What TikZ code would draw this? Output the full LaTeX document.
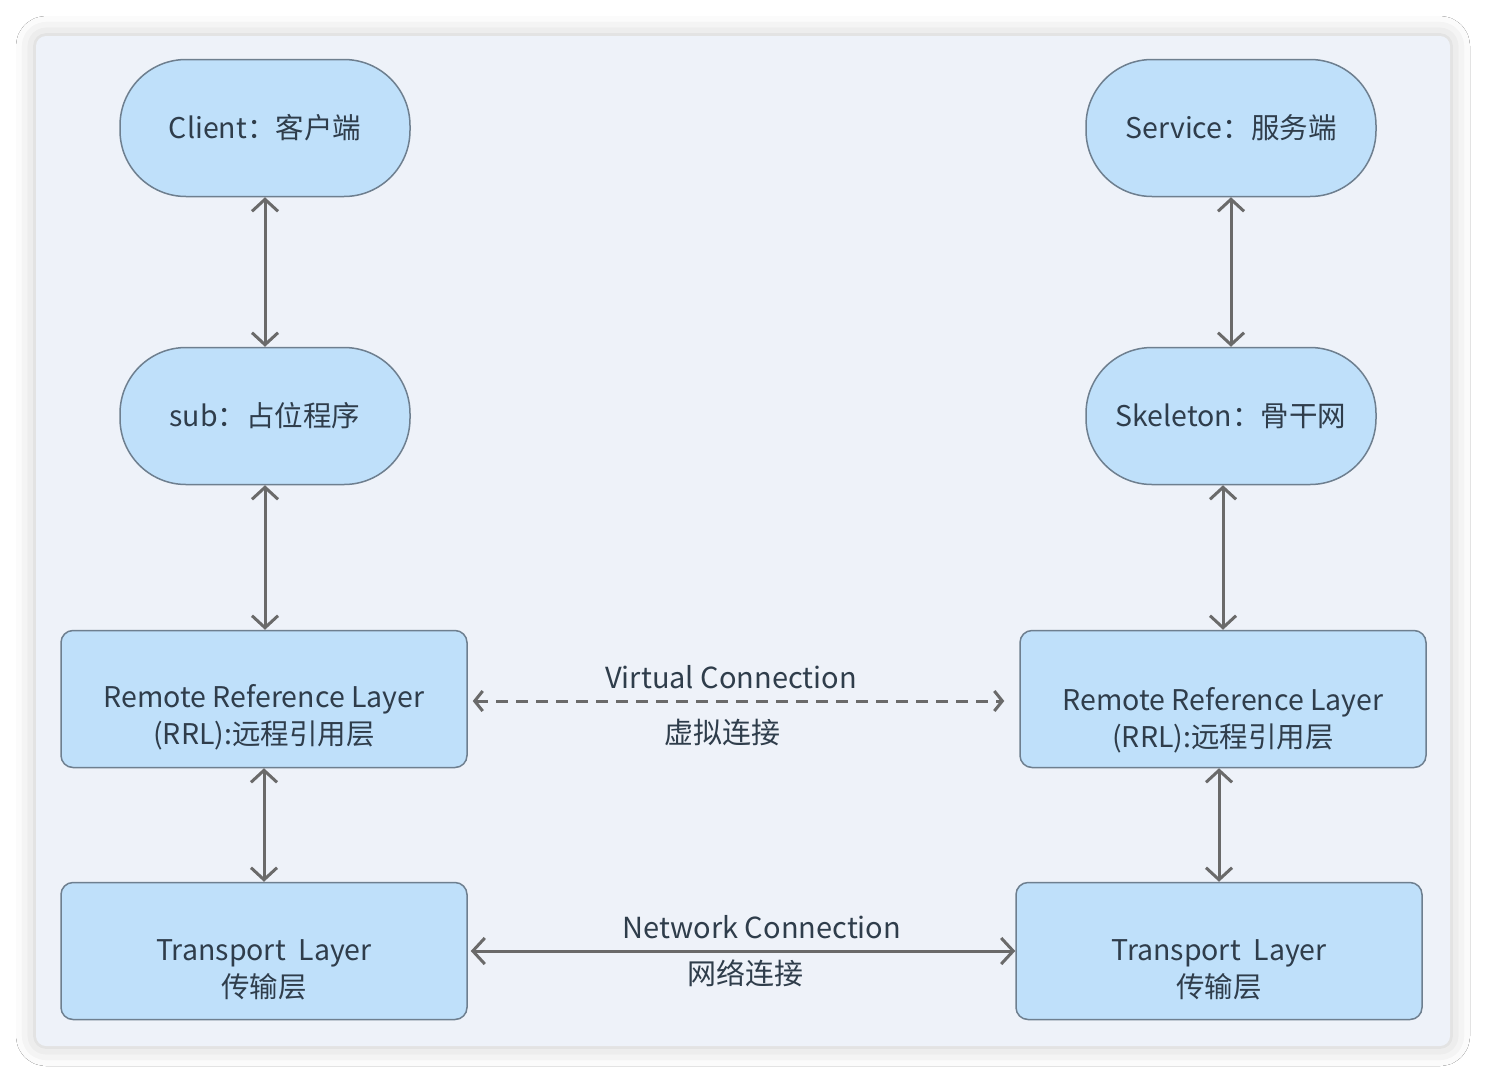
\documentclass[tikz,border=0pt]{standalone}
\usepackage{fontspec}
\setmainfont{Noto Sans CJK SC}
\usetikzlibrary{arrows.meta,shadows.blur}
\definecolor{panelbg}{HTML}{EEF2F9}
\definecolor{nodefill}{HTML}{BFE0FA}
\definecolor{nodeline}{HTML}{6E7F8F}
\definecolor{txt}{HTML}{2F3D4B}
\definecolor{arr}{HTML}{6A6A6A}
\tikzset{
  pill/.style={draw=nodeline, line width=1.5pt, fill=nodefill, rounded corners=66pt,
    minimum width=290pt, minimum height=137pt, inner sep=0pt, align=center,
    text=txt, font=\fontsize{28.5}{36}\selectfont},
  layerbox/.style={draw=nodeline, line width=1.5pt, fill=nodefill, rounded corners=12pt,
    minimum width=406pt, minimum height=137pt, inner sep=0pt},
  layertext/.style={align=center, inner sep=0pt, text=txt, font=\fontsize{28.5}{37}\selectfont},
  biarrow/.style={draw=arr, line width=3pt, {Straight Barb[length=12pt,width=26pt]}-{Straight Barb[length=12pt,width=26pt]}},
  dasharrow/.style={draw=arr, line width=3pt, dash pattern=on 12pt off 8pt,
    {Straight Barb[length=8pt,width=20pt]}-{Straight Barb[length=8pt,width=20pt]}},
  lbl/.style={text=txt, font=\fontsize{29}{32}\selectfont, inner sep=0pt}
}
\begin{document}
\begin{tikzpicture}[x=1pt,y=-1pt]
\useasboundingbox (0,0) rectangle (1486,1082);
\fill[white] (0,0) rectangle (1486,1082);
\path[fill=panelbg, rounded corners=10pt,
  blur shadow={shadow xshift=0pt, shadow yshift=0pt, shadow blur radius=20pt, shadow opacity=22}]
  (36,36) rectangle (1450,1046);

\node[pill] (client) at (265,128) {Client：客户端};
\node[pill] (sub) at (265,416) {sub：占位程序};
\node[layerbox] (rrlL) at (264,699) {};
\node[layerbox] (tlL) at (264,951) {};

\node[pill] (service) at (1231,128) {Service：服务端};
\node[pill] (skel) at (1231,416) {Skeleton：骨干网};
\node[layerbox] (rrlR) at (1223,699) {};
\node[layerbox] (tlR) at (1219,951) {};

\node[layertext] (rrlLt) at ([yshift=-18pt]rrlL.center) {Remote Reference Layer\\(RRL):远程引用层};
\node[layertext] (tlLt) at ([yshift=-19pt]tlL.center) {Transport\ \ Layer\\传输层};
\node[layertext] (rrlRt) at ([yshift=-21pt]rrlR.center) {Remote Reference Layer\\(RRL):远程引用层};
\node[layertext] (tlRt) at ([yshift=-19pt]tlR.center) {Transport\ \ Layer\\传输层};

\draw[biarrow] (client.south) -- (sub.north);
\draw[biarrow] (sub.south) -- (rrlL.north -| sub.south);
\draw[biarrow] (rrlL.south) -- (tlL.north);
\draw[biarrow] (service.south) -- (skel.north);
\draw[biarrow] (skel.south -| rrlR.north) -- (rrlR.north);
\draw[biarrow] (rrlR.south -| tlR.north) -- (tlR.north);

\draw[dasharrow, shorten <=5pt, shorten >=15pt] ([yshift=-2pt]rrlL.east) -- ([yshift=-2pt]rrlR.west);
\draw[biarrow, shorten <=3pt] (tlL.east) -- (tlR.west);

\node[lbl] (vc) at (731,677) {Virtual Connection};
\node[lbl] (vczh) at (722,732) {虚拟连接};
\node[lbl] (nc) at (762,927) {Network Connection};
\node[lbl] (nczh) at (745,973) {网络连接};
\end{tikzpicture}
\end{document}
